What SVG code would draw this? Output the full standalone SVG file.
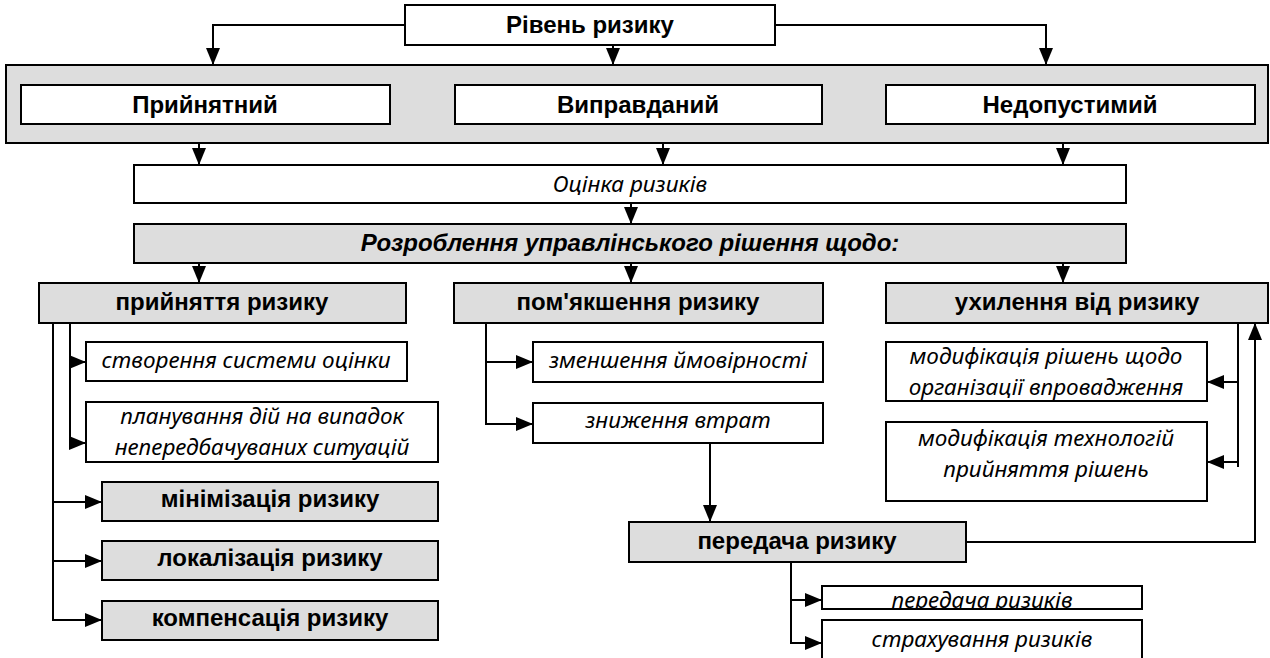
<svg xmlns="http://www.w3.org/2000/svg" width="1270" height="658" viewBox="0 0 1270 658">
<style>
  rect { stroke: #000; stroke-width: 2; }
  .w { fill: #fff; }
  .g { fill: #dddddd; }
  .b { font-family: "Liberation Sans", Arial, sans-serif; font-weight: bold; font-size: 24px; fill: #000; text-anchor: middle; }
  .bi { font-family: "Liberation Sans", Arial, sans-serif; font-weight: bold; font-style: italic; font-size: 24px; fill: #000; text-anchor: middle; }
  .i { font-family: "Noto Sans", "Liberation Sans", sans-serif; font-style: italic; font-size: 22.5px; fill: #000; text-anchor: middle; }
  .c { fill: none; stroke: #000; stroke-width: 2; }
</style>
<defs>
  <marker id="ah" viewBox="0 0 17 14" refX="17" refY="7" markerWidth="17" markerHeight="14" markerUnits="userSpaceOnUse" orient="auto">
    <path d="M0,0 L17,7 L0,14 Z" fill="#000"/>
  </marker>
  <clipPath id="clipPR"><rect x="822" y="586" width="320" height="23"/></clipPath>
</defs>

<g id="outer-level">
  <rect class="g" x="6" y="65" width="1262" height="78"/>
</g>
<g id="n-riven">
  <rect class="w" x="405" y="5" width="370" height="40"/>
  <text class="b" x="590" y="33">Рівень ризику</text>
</g>
<g id="n-pryinyatnyi">
  <rect class="w" x="21" y="85" width="369" height="39"/>
  <text class="b" x="205" y="113">Прийнятний</text>
</g>
<g id="n-vypravdanyi">
  <rect class="w" x="455" y="85" width="367" height="39"/>
  <text class="b" x="638" y="113">Виправданий</text>
</g>
<g id="n-nedopustymyi">
  <rect class="w" x="886" y="85" width="369" height="39"/>
  <text class="b" x="1070" y="113">Недопустимий</text>
</g>
<g id="n-otsinka">
  <rect class="w" x="134" y="165" width="992" height="38"/>
  <text class="i" x="630" y="192">Оцінка ризиків</text>
</g>
<g id="n-rozroblennya">
  <rect class="g" x="134" y="224" width="992" height="39"/>
  <text class="bi" x="630" y="251">Розроблення управлінського рішення щодо:</text>
</g>
<g id="n-pryiniattia">
  <rect class="g" x="39" y="283" width="367" height="40"/>
  <text class="b" x="222" y="310">прийняття ризику</text>
</g>
<g id="n-pomyakshennia">
  <rect class="g" x="454" y="283" width="369" height="40"/>
  <text class="b" x="638" y="310">пом'якшення ризику</text>
</g>
<g id="n-ukhylennia">
  <rect class="g" x="886" y="283" width="382" height="40"/>
  <text class="b" x="1077" y="310">ухилення від ризику</text>
</g>
<g id="n-stvorennia">
  <rect class="w" x="86" y="342" width="321" height="39"/>
  <text class="i" x="246" y="368">створення системи оцінки</text>
</g>
<g id="n-planuvannia">
  <rect class="w" x="86" y="402" width="352" height="60"/>
  <text class="i" x="262" y="424">планування дій на випадок<tspan x="262" dy="31">непередбачуваних ситуацій</tspan></text>
</g>
<g id="n-minimizatsiia">
  <rect class="g" x="102" y="482" width="336" height="39"/>
  <text class="b" x="270" y="507">мінімізація ризику</text>
</g>
<g id="n-lokalizatsiia">
  <rect class="g" x="102" y="541" width="336" height="39"/>
  <text class="b" x="270" y="566">локалізація ризику</text>
</g>
<g id="n-kompensatsiia">
  <rect class="g" x="102" y="601" width="336" height="39"/>
  <text class="b" x="270" y="626">компенсація ризику</text>
</g>
<g id="n-zmenshennia">
  <rect class="w" x="533" y="342" width="290" height="40"/>
  <text class="i" x="678" y="368">зменшення ймовірності</text>
</g>
<g id="n-znyzhennia">
  <rect class="w" x="533" y="403" width="290" height="40"/>
  <text class="i" x="678" y="428">зниження втрат</text>
</g>
<g id="n-mod-rishen">
  <rect class="w" x="886" y="342" width="321" height="59"/>
  <text class="i" x="1046" y="364">модифікація рішень щодо<tspan x="1046" dy="31">організації впровадження</tspan></text>
</g>
<g id="n-mod-tekhn">
  <rect class="w" x="886" y="422" width="321" height="79"/>
  <text class="i" x="1046" y="446">модифікація технологій<tspan x="1046" dy="31">прийняття рішень</tspan></text>
</g>
<g id="n-peredacha">
  <rect class="g" x="629" y="522" width="337" height="40"/>
  <text class="b" x="797" y="549">передача ризику</text>
</g>
<g id="n-peredacha-ryzykiv">
  <rect class="w" x="822" y="586" width="320" height="23"/>
  <text class="i" x="982" y="608" clip-path="url(#clipPR)">передача ризиків</text>
  <rect x="822" y="586" width="320" height="23" fill="none"/>
</g>
<g id="n-strakhuvannia">
  <rect class="w" x="822" y="620" width="320" height="42"/>
  <text class="i" x="982" y="647">страхування ризиків</text>
</g>

<g id="connectors">
  <path class="c" d="M405,25 H213 V65" marker-end="url(#ah)"/>
  <path class="c" d="M775,25 H1046 V65" marker-end="url(#ah)"/>
  <path class="c" d="M613,45 V65" marker-end="url(#ah)"/>
  <path class="c" d="M199,143 V165" marker-end="url(#ah)"/>
  <path class="c" d="M663,143 V165" marker-end="url(#ah)"/>
  <path class="c" d="M1063,143 V165" marker-end="url(#ah)"/>
  <path class="c" d="M631,203 V224" marker-end="url(#ah)"/>
  <path class="c" d="M199,263 V283" marker-end="url(#ah)"/>
  <path class="c" d="M631,263 V283" marker-end="url(#ah)"/>
  <path class="c" d="M1063,263 V283" marker-end="url(#ah)"/>
  <path class="c" d="M70,323 V443"/>
  <path class="c" d="M70,362 H86" marker-end="url(#ah)"/>
  <path class="c" d="M70,443 H86" marker-end="url(#ah)"/>
  <path class="c" d="M53,323 V620 H102" marker-end="url(#ah)"/>
  <path class="c" d="M53,502 H102" marker-end="url(#ah)"/>
  <path class="c" d="M53,561 H102" marker-end="url(#ah)"/>
  <path class="c" d="M486,323 V424 H533" marker-end="url(#ah)"/>
  <path class="c" d="M486,362 H533" marker-end="url(#ah)"/>
  <path class="c" d="M710,443 V522" marker-end="url(#ah)"/>
  <path class="c" d="M966,542 H1255 V323" marker-end="url(#ah)"/>
  <path class="c" d="M1238,323 V467"/>
  <path class="c" d="M1238,382 H1207" marker-end="url(#ah)"/>
  <path class="c" d="M1238,462 H1207" marker-end="url(#ah)"/>
  <path class="c" d="M791,562 V643 H822" marker-end="url(#ah)"/>
  <path class="c" d="M791,600 H822" marker-end="url(#ah)"/>
</g>
</svg>
